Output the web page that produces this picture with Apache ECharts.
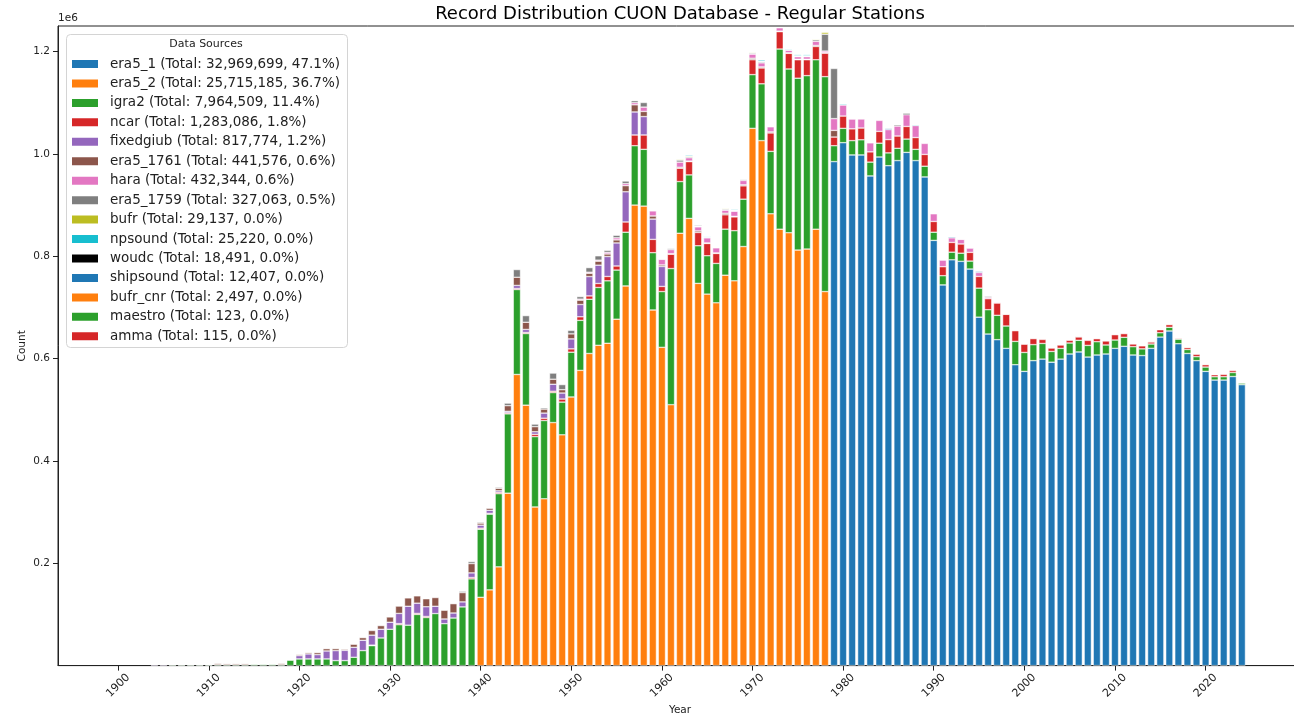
<!DOCTYPE html>
<html>
<head>
<meta charset="utf-8">
<title>Record Distribution CUON Database - Regular Stations</title>
<script src="https://cdn.jsdelivr.net/npm/echarts@6/dist/echarts.min.js"></script>
<style>
    html, body { margin: 0; padding: 0; background: #fff; }
    #chart { width: 1294px; height: 717px; }
</style>
</head>
<body>
<div id="chart"></div>
<script>
// 年份 1900-2024
const firstYear = 1900;
const lastYear = 2024;
const years = [];
for (let y = firstYear; y <= lastYear; y++) years.push(y);

// 图例信息
const sourceNames = ['era5_1', 'era5_2', 'igra2', 'ncar', 'fixedgiub', 'era5_1761', 'hara', 'era5_1759',
    'bufr', 'npsound', 'woudc', 'shipsound', 'bufr_cnr', 'maestro', 'amma'];
const sourceTotals = [32969699, 25715185, 7964509, 1283086, 817774, 441576, 432344, 327063,
    29137, 25220, 18491, 12407, 2497, 123, 115];
const sourcePercents = ['47.1', '36.7', '11.4', '1.8', '1.2', '0.6', '0.6', '0.5',
    '0.0', '0.0', '0.0', '0.0', '0.0', '0.0', '0.0'];
const sourceColors = ['#1f77b4', '#ff7f0e', '#2ca02c', '#d62728', '#9467bd', '#8c564b', '#e377c2', '#7f7f7f',
    '#bcbd22', '#17becf', '#000000', '#1f77b4', '#ff7f0e', '#2ca02c', '#d62728'];

// 每年记录数（千条），数组从起始年份开始
const era5_1Start = 1979;
const era5_1 = [985, 1022, 998, 998, 957, 994, 977, 987, 1003, 987,
    955, 831, 744, 793, 790, 775, 681, 648, 637, 620,
    588, 575, 596, 599, 593, 599, 609, 613, 603, 607,
    609, 620, 624, 607, 606, 620, 642, 654, 629, 610,
    596, 575, 558, 558, 565, 549];

const era5_2Start = 1940;
const era5_2 = [133.5, 148, 193, 337, 569, 509, 310, 326, 475, 451,
    525, 577, 610, 626, 630, 677, 742, 900, 898, 695,
    622, 510, 845, 874, 747, 726, 709, 763, 752, 819,
    1050, 1026, 883, 853, 846, 812, 814, 853, 731];

const igra2Start = 1906;
const igra2 = [1.5, 1.5, 1.5, 1.5, 1.5, 1.5, 1.5, 1.5, 1.5, 2, 2, 2, 1.5, 10.4,
    13, 13, 13, 13, 9.8, 9.8, 16.3, 29.3, 39, 54,
    71, 80, 79, 100, 94, 101.7, 82, 93, 114.7, 169.5,
    133, 148, 143, 155, 166, 140, 137.5, 153, 58.6, 64,
    87.5, 97.7, 106, 113, 122, 96, 105, 116, 111, 112,
    109, 266, 101, 85, 73.5, 75, 77, 90, 98, 92.6,
    105, 111, 122, 352, 320, 336, 339, 331, 420, 31,
    28, 28, 29.6, 27, 27, 25, 24, 26, 22, 21,
    16, 18, 15, 16, 15.6, 56.7, 47.6, 47.6, 43.7, 45.6,
    37, 31.3, 30.6, 21, 21, 21.5, 22.8, 22.8, 26, 17.6,
    16.3, 17.6, 16.3, 13, 8.5, 8.5, 7.2, 9, 7.8, 7.8,
    8.5, 6.5, 6.5, 7.8, 3.3];

const ncarStart = 1928;
const ncar = [1, 0, 0, 2, 0, 2, 2, 0, 0, 0, 0, 2.6,
    2, 1.5, 2.6, 2, 2, 2, 4.5, 4.5, 2.6, 6,
    6.5, 7, 6.5, 7.8, 8.5, 8, 20, 21, 28, 26,
    10, 28, 26, 26, 26, 24, 19.5, 28, 27, 26,
    29, 31, 36, 34, 30.6, 36, 31, 26, 46, 17,
    24, 23, 23, 20, 23, 26, 24, 24.7, 23, 23,
    21, 17.6, 19, 18, 17, 22.8, 21.5, 24, 22.8, 20.9,
    16.3, 11.7, 7.8, 6.5, 6.5, 5.2, 6.5, 9.8, 5.9, 7.8,
    10.4, 7.2, 5.2, 5.9, 4, 5.9, 5.2, 1.5, 3.9, 4.6,
    4.6, 3.9, 4.6, 3.9, 0.5];

const fixedgiubStart = 1904;
const fixedgiub = [1.5, 1.5, 0, 0, 0, 0,
    0, 0, 0, 0, 0, 0, 0, 0, 0, 0,
    6.5, 9.8, 8.5, 15.6, 19.5, 20, 19.5, 20.2, 19.5, 17,
    13.7, 20, 37, 20, 19, 14.3, 9.1, 9.8, 9.8, 9.1,
    6, 6, 3, 3, 6, 6, 5, 10, 13.7, 11.7,
    19.5, 24, 37.8, 35.8, 39, 45, 59, 45, 36, 39.7,
    39];

const era5_1761Start = 1906;
const era5_1761 = [0.5, 0.5, 0.5, 0.5,
    0.5, 2.5, 2.5, 2.5, 2.5, 0, 0, 0, 2.5, 0,
    2, 2.5, 3.9, 4.5, 3.9, 2, 5.9, 5.2, 9.1, 7.2,
    10.4, 14.3, 16.3, 14.3, 15.6, 17, 17, 18.2, 18.2, 18.2,
    4, 4, 5, 11, 16, 14, 10, 7.8, 9.8, 6.5,
    9.8, 8.5, 6.5, 7.8, 5, 6, 12, 14, 10, 6,
    3, 1, 2, 1, 3, 1, 1, 3, 1, 2,
    3, 2, 2, 1, 1, 1, 1, 2, 1, 13];

const haraStart = 1951;
const hara = [2, 2, 2, 3, 4, 4, 4, 8.5, 10,
    11, 8, 10, 6.5, 8, 10, 10, 6, 10, 8.5,
    8, 8, 10, 6.5, 5, 5, 5, 8, 3, 23,
    21.5, 19, 17.6, 17.6, 21.5, 19.5, 19.5, 22.8, 23.5, 21.5,
    15, 13, 9, 9, 8.5, 7.8, 2.6, 1.3, 0.5];

const era5_1759Start = 1912;
const era5_1759 = [0.5, 0.5, 0.5, 0, 0, 0, 0, 0,
    0, 0, 0, 0, 0, 0, 0, 0, 0, 0,
    0, 0, 0, 0, 0, 0, 0, 0, 2.6, 3.9,
    2, 0, 2, 5, 15, 13, 5, 2.6, 12, 10,
    7, 5, 9, 8.5, 4, 5, 5, 4, 9, 1,
    1, 2, 4, 2, 1, 1, 1, 2, 1, 2,
    2, 2, 1, 1, 1, 1, 1, 3, 33, 98];

// 小数据源（年份: 千条）
const bufr = {1962: 1.5, 1963: 1.5, 1967: 1.5, 1968: 1, 1970: 1.5, 1971: 1, 1975: 1, 1976: 1, 1977: 1.5, 1978: 3.5};
const npsound = {1963: 2, 1964: 1, 1965: 1.5, 1967: 1, 1968: 1.5, 1969: 1, 1970: 1, 1971: 2.5, 1972: 1,
    1974: 1.5, 1975: 2, 1976: 2, 1977: 1, 1980: 2, 1988: 1.5, 1994: 1};
const woudc = {1964: 1.5, 1965: 1, 1966: 1, 1986: 2, 1987: 2.5, 1991: 1, 1996: 1.5, 2000: 1, 2006: 1.5, 2018: 1};
const shipsound = {1985: 2, 1988: 1, 1992: 2, 1995: 2, 1993: 0.5};
const bufr_cnr = {2014: 1.2, 2016: 1.3};
const maestro = {2006: 0.123};
const amma = {2006: 0.115};

function fromArray(start, arr) {
    const out = years.map(() => 0);
    arr.forEach((v, i) => { out[start - firstYear + i] = v; });
    return out;
}
function fromMap(m) {
    return years.map(y => m[y] || 0);
}

const sourceValues = [
    fromArray(era5_1Start, era5_1),
    fromArray(era5_2Start, era5_2),
    fromArray(igra2Start, igra2),
    fromArray(ncarStart, ncar),
    fromArray(fixedgiubStart, fixedgiub),
    fromArray(era5_1761Start, era5_1761),
    fromArray(haraStart, hara),
    fromArray(era5_1759Start, era5_1759),
    fromMap(bufr),
    fromMap(npsound),
    fromMap(woudc),
    fromMap(shipsound),
    fromMap(bufr_cnr),
    fromMap(maestro),
    fromMap(amma)
];

const xTicks = [1900, 1910, 1920, 1930, 1940, 1950, 1960, 1970, 1980, 1990, 2000, 2010, 2020];
const yTicks = [200000, 400000, 600000, 800000, 1000000, 1200000];

function legendLabel(i) {
    return sourceNames[i] + ' (Total: ' + sourceTotals[i].toLocaleString('en-US') + ', ' + sourcePercents[i] + '%)';
}

const chart = echarts.init(document.getElementById('chart'));

// 数据项写成 [数值, 年份]，让数值维度排在第一位以便堆叠
const series = sourceNames.map((name, i) => ({
    name: legendLabel(i),
    type: 'bar',
    stack: 'total',
    barWidth: 7.2,
    silent: true,
    encode: { x: 1, y: 0 },
    itemStyle: { color: sourceColors[i], borderColor: '#ffffff', borderWidth: 0.5 },
    data: years.map((y, k) => [sourceValues[i][k] > 0 ? sourceValues[i][k] * 1000 : '-', y])
}));

const option = {
    animation: false,
    textStyle: { fontFamily: 'DejaVu Sans' },
    grid: {
        left: 58, top: 26, right: -8, bottom: 51.4,
        outerBoundsMode: 'none',
        containLabel: false,
        show: true, borderColor: '#222', borderWidth: 1
    },
    xAxis: {
        type: 'value',
        min: 1893.36,
        max: 2030.64,
        name: 'Year',
        nameLocation: 'middle',
        nameGap: 39,
        nameMoveOverlap: false,
        nameTextStyle: { fontSize: 10.5, color: '#222' },
        splitLine: { show: false },
        axisLine: { onZero: false, lineStyle: { color: '#222' } },
        axisTick: { length: 5, customValues: xTicks, lineStyle: { color: '#222' } },
        axisLabel: {
            customValues: xTicks, rotate: 45, align: 'center', verticalAlign: 'middle',
            margin: 20, fontSize: 11, color: '#222',
            formatter: v => String(v)
        }
    },
    yAxis: {
        type: 'value',
        min: 0,
        max: 1250000,
        name: 'Count',
        nameLocation: 'middle',
        nameGap: 30,
        nameMoveOverlap: false,
        nameRotate: 90,
        nameTextStyle: { fontSize: 10.5, color: '#222' },
        splitLine: { show: false },
        axisLine: { show: true, lineStyle: { color: '#222' } },
        axisTick: { show: true, length: 5, customValues: yTicks, lineStyle: { color: '#222' } },
        axisLabel: {
            customValues: yTicks, margin: 8, fontSize: 10.5, color: '#222',
            formatter: v => (v / 1e6).toFixed(1)
        }
    },
    legend: {
        orient: 'vertical',
        left: 70,
        top: 56.5,
        padding: 0,
        itemGap: 4.45,
        itemWidth: 28,
        itemHeight: 10,
        icon: 'rect',
        selectedMode: false,
        z: 10,
        textStyle: { fontSize: 13.5, lineHeight: 15, color: '#222', padding: [0, 0, 0, 6] }
    },
    graphic: [
        {
            type: 'text', x: 680, y: 14, z: 10,
            style: { text: 'Record Distribution CUON Database - Regular Stations', fontSize: 18,
                fontFamily: 'DejaVu Sans', fill: '#000', align: 'center', verticalAlign: 'middle' }
        },
        {
            type: 'text', x: 58, y: 18, z: 10,
            style: { text: '1e6', fontSize: 10.5, fontFamily: 'DejaVu Sans', fill: '#222',
                align: 'left', verticalAlign: 'middle' }
        },
        {
            type: 'rect', z: 5,
            shape: { x: 66.5, y: 34.5, width: 281, height: 313, r: 4 },
            style: { fill: 'rgba(255,255,255,0.85)', stroke: '#d4d4d4', lineWidth: 1 }
        },
        {
            type: 'text', x: 206, y: 44, z: 10,
            style: { text: 'Data Sources', fontSize: 11, fontFamily: 'DejaVu Sans', fill: '#222',
                align: 'center', verticalAlign: 'middle' }
        }
    ],
    series: series
};

chart.setOption(option);
</script>
</body>
</html>
